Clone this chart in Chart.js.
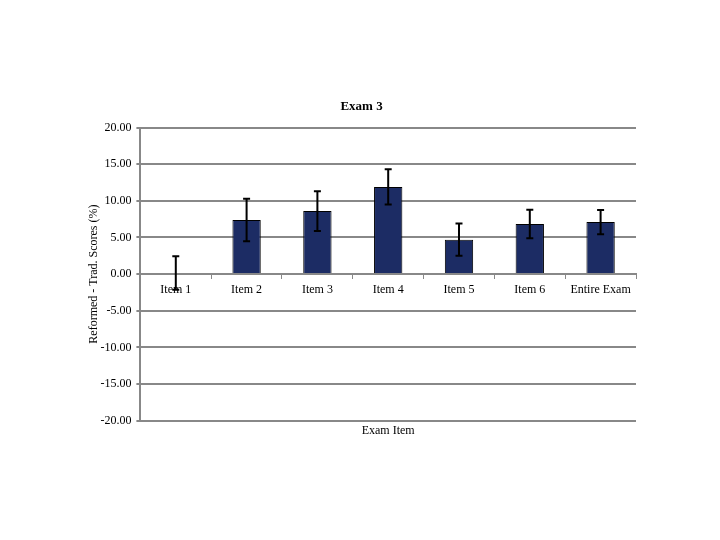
<!DOCTYPE html>
<html>
<head>
<meta charset="utf-8">
<script src="https://cdn.jsdelivr.net/npm/chart.js@4.4.1/dist/chart.umd.min.js"></script>
<style>
  html, body { margin: 0; padding: 0; background: #fff; }
  #wrap { width: 720px; height: 540px; }
</style>
</head>
<body>
<div id="wrap"><canvas id="chart" width="720" height="540"></canvas></div>
<script>
    'use strict';

    // Data
    const categories = ['Item 1', 'Item 2', 'Item 3', 'Item 4', 'Item 5', 'Item 6', 'Entire Exam'];
    const diffValues = [0.15, 7.4, 8.6, 11.9, 4.7, 6.85, 7.1];
    const errorValues = [2.3, 2.9, 2.7, 2.4, 2.2, 1.95, 1.65];
    const yTicks = [-20, -15, -10, -5, 0, 5, 10, 15, 20];

    const serif = '"Liberation Serif", "Times New Roman", serif';

    /**
     * Draw symmetric error bars on top of the bars
     */
    const errorBarPlugin = {
        id: 'errorBars',
        afterDatasetsDraw(chart) {
            const ctx = chart.ctx;
            const meta = chart.getDatasetMeta(0);
            const yScale = chart.scales.y;

            ctx.save();
            ctx.strokeStyle = '#000';
            ctx.lineWidth = 2;
            meta.data.forEach((bar, i) => {
                const v = diffValues[i];
                const e = errorValues[i];
                const x = bar.x;
                const top = yScale.getPixelForValue(v + e);
                const bottom = yScale.getPixelForValue(v - e);
                const cap = 3.5;
                ctx.beginPath();
                ctx.moveTo(x, top);
                ctx.lineTo(x, bottom);
                ctx.moveTo(x - cap, top);
                ctx.lineTo(x + cap, top);
                ctx.moveTo(x - cap, bottom);
                ctx.lineTo(x + cap, bottom);
                ctx.stroke();
            });
            ctx.restore();
        }
    };

    const ctx = document.getElementById('chart').getContext('2d');

    new Chart(ctx, {
        type: 'bar',
        data: {
            labels: categories,
            datasets: [{
                data: diffValues,
                backgroundColor: '#1c2c64',
                borderColor: '#000',
                borderWidth: 1,
                categoryPercentage: 1,
                barPercentage: 0.4
            }]
        },
        options: {
            responsive: false,
            animation: false,
            layout: {
                padding: { left: 87, right: 84, top: 99, bottom: 102 }
            },
            plugins: {
                legend: { display: false },
                tooltip: { enabled: false },
                title: {
                    display: true,
                    text: 'Exam 3',
                    color: '#000',
                    font: { family: serif, size: 13, weight: 'bold' },
                    padding: { top: 0, bottom: 13 }
                }
            },
            scales: {
                x: {
                    position: { y: 0 },
                    offset: true,
                    grid: {
                        offset: true,
                        drawOnChartArea: false,
                        color: '#888',
                        tickLength: 4,
                        lineWidth: 1
                    },
                    border: { color: '#888', width: 2 },
                    ticks: {
                        color: '#000',
                        font: { family: serif, size: 12 },
                        maxRotation: 0,
                        autoSkip: false,
                        padding: 5
                    }
                },
                x2: {
                    axis: 'x',
                    position: 'bottom',
                    labels: categories,
                    grid: { display: false },
                    border: { display: false },
                    ticks: { display: false },
                    title: {
                        display: true,
                        text: 'Exam Item',
                        color: '#000',
                        font: { family: serif, size: 12 },
                        padding: { top: -5, bottom: 0 }
                    }
                },
                y: {
                    min: -20,
                    max: 20,
                    afterBuildTicks(scale) {
                        scale.ticks = yTicks.map(v => ({ value: v }));
                    },
                    grid: {
                        color: '#888',
                        lineWidth: 2,
                        tickLength: 4
                    },
                    border: { color: '#888', width: 2 },
                    ticks: {
                        color: '#000',
                        font: { family: serif, size: 12 },
                        padding: 5,
                        callback: v => Number(v).toFixed(2)
                    },
                    title: {
                        display: true,
                        text: 'Reformed - Trad. Scores (%)',
                        color: '#000',
                        font: { family: serif, size: 12 },
                        padding: { top: 0, bottom: -6 }
                    }
                }
            }
        },
        plugins: [errorBarPlugin]
    });
</script>
</body>
</html>
